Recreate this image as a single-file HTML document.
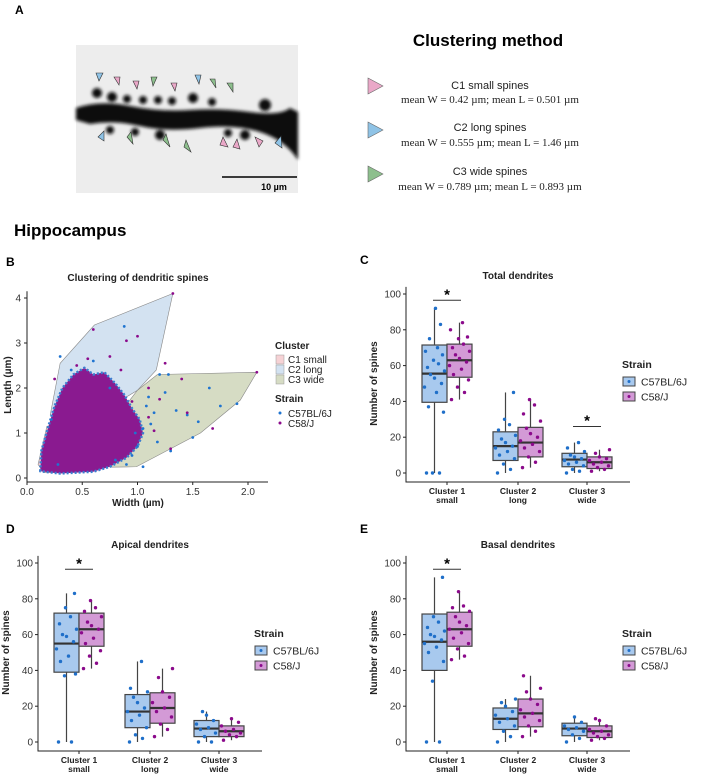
<!DOCTYPE html>
<html><head><meta charset="utf-8"><style>
body{margin:0;background:#fff;width:708px;height:777px;overflow:hidden;font-family:"Liberation Sans",sans-serif}
svg{position:absolute;left:0;top:0}
</style></head><body>
<svg id="fig" width="708" height="777" xmlns="http://www.w3.org/2000/svg">
<defs><filter id="blur" x="-10%" y="-10%" width="120%" height="120%"><feGaussianBlur stdDeviation="1.6"/></filter></defs>
<g>
 <text x="15" y="14" font-weight="bold" font-size="12">A</text>
 <rect x="76" y="45" width="222" height="148" fill="#ededed"/>
 <g filter="url(#blur)">
 <path d="M76 108 Q100 100 130 106 T190 110 T250 112 T290 108 L298 112 L298 160 Q285 140 260 132 T200 128 T140 126 T90 124 L76 120Z" fill="#111"/>
 <g fill="#111">
  <circle cx="97" cy="93" r="5"/><circle cx="112" cy="97" r="5"/><circle cx="127" cy="99" r="4"/><circle cx="143" cy="100" r="4"/><circle cx="158" cy="100" r="4"/><circle cx="172" cy="101" r="4"/><circle cx="193" cy="98" r="5"/><circle cx="212" cy="102" r="4"/><circle cx="110" cy="130" r="4"/><circle cx="135" cy="132" r="4"/><circle cx="160" cy="135" r="5"/><circle cx="228" cy="133" r="4"/><circle cx="245" cy="135" r="5"/><circle cx="265" cy="105" r="6"/>
 </g></g>
 <g stroke="#333" stroke-width="0.6">
  <polygon points="96,73 103,73 99,81" fill="#8fc3e6"/><polygon points="114,77 120,77 119,85" fill="#eaa8c8"/><polygon points="133,81 139,81 137,89" fill="#eaa8c8"/><polygon points="151,77 157,77 153,86" fill="#8dbf8d"/><polygon points="171,83 177,83 175,91" fill="#eaa8c8"/><polygon points="195,75 201,75 199,84" fill="#8fc3e6"/><polygon points="210,79 215,79 216,88" fill="#8dbf8d"/><polygon points="227,83 233,83 233,92" fill="#8dbf8d"/>
  <polygon points="98,137 104,131 104,141" fill="#8fc3e6"/><polygon points="127,137 131,132 133,144" fill="#8dbf8d"/><polygon points="163,140 166,134 170,147" fill="#8dbf8d"/><polygon points="184,147 186,140 191,152" fill="#8dbf8d"/><polygon points="220,145 223,137 228,147" fill="#eaa8c8"/><polygon points="233,147 237,139 240,149" fill="#eaa8c8"/><polygon points="255,137 263,141 259,147" fill="#eaa8c8"/><polygon points="275,143 281,136 282,148" fill="#8fc3e6"/>
 </g>
 <line x1="222" y1="177" x2="297" y2="177" stroke="#000" stroke-width="1.5"/>
 <text x="274" y="190" font-size="9" font-weight="bold" text-anchor="middle">10 µm</text>
 <text x="488" y="46" font-size="17" font-weight="bold" text-anchor="middle">Clustering method</text>
 <g font-family="Liberation Serif,serif" font-size="11" text-anchor="middle" fill="#222">
  <polygon points="368,78 383,86 368,94" fill="#eaa8c8" stroke="#666" stroke-width="0.6"/>
  <text x="490" y="89" font-family="Liberation Sans,sans-serif">C1 small spines</text><text x="490" y="103">mean W = 0.42 µm; mean L = 0.501 µm</text>
  <polygon points="368,122 383,130 368,138" fill="#8fc3e6" stroke="#666" stroke-width="0.6"/>
  <text x="490" y="131" font-family="Liberation Sans,sans-serif">C2 long spines</text><text x="490" y="146">mean W = 0.555 µm; mean L = 1.46 µm</text>
  <polygon points="368,166 383,174 368,182" fill="#8dbf8d" stroke="#666" stroke-width="0.6"/>
  <text x="490" y="175" font-family="Liberation Sans,sans-serif">C3 wide spines</text><text x="490" y="190">mean W = 0.789 µm; mean L = 0.893 µm</text>
 </g>
 <text x="14" y="236" font-size="17" font-weight="bold">Hippocampus</text>
</g>
<g id="pb"></g>
<g id="pc"></g>
<g id="pd"></g>
<g id="pe"></g>
</svg>
<script>
// ---- Panel B data ----
const hullC1 = [[0.1,0.3],[0.18,1.15],[0.27,1.18],[0.35,0.12],[0.15,0.12]];
const hullC2 = [[0.21,1.4],[0.3,2.55],[0.61,3.4],[1.32,4.1],[1.17,2.4],[1.0,1.95],[0.5,1.2]];
const hullC3 = [[1.0,1.95],[1.18,2.3],[2.08,2.35],[1.93,1.73],[1.57,1.0],[0.99,0.25],[0.75,0.24],[0.7,1.0]];
const coreCloud = [[0.12,0.15],[0.13,0.6],[0.2,1.2],[0.25,1.6],[0.32,2.0],[0.42,2.3],[0.52,2.45],[0.6,2.3],[0.7,2.35],[0.8,2.1],[0.88,1.85],[0.95,1.55],[1.02,1.3],[1.05,1.0],[1.0,0.7],[0.9,0.45],[0.75,0.25],[0.6,0.14],[0.3,0.1]];
const bluePtsW = [0.88,1.2,1.28,1.35,1.55,1.65,1.75,1.9,1.1,1.25,1.45,1.05,1.18,1.5,1.3,0.95,1.15,0.6,0.4,0.75,0.9,1.0,1.05,0.8,0.3,1.08,1.12,0.98,0.22,0.28];
const bluePtsL = [3.37,2.3,2.3,1.5,1.25,2.0,1.6,1.65,1.8,1.9,1.4,1.1,0.8,0.9,0.6,0.5,1.45,2.6,2.4,2.0,0.3,0.7,0.25,0.4,2.7,1.6,1.2,1.0,1.3,0.3];
const purplePtsW = [1.32,0.6,0.9,1.0,1.25,1.4,2.08,1.68,1.2,0.45,0.25,0.75,1.1,0.85,0.55,1.3,1.45,1.1,0.95,1.15];
const purplePtsL = [4.1,3.3,3.05,3.15,2.55,2.2,2.35,1.1,1.75,2.5,2.2,2.7,2.0,2.4,2.65,0.65,1.45,1.35,1.7,1.05];
const xTicksB = [0,0.5,1.0,1.5,2.0];
const yTicksB = [0,1,2,3,4];

// ---- Boxplot data: [min, q1, median, q3, max] ----
const clusterNames = ["Cluster 1","Cluster 2","Cluster 3"];
const clusterSub = ["small","long","wide"];
const yTicksBox = [0,20,40,60,80,100];
const totalBlue = [[0,39.5,55.5,71.5,92],[0,7,15,23,45],[0,3.5,7.5,11,17]];
const totalPurple = [[41,53.5,63,72,84],[3,9,17,25.5,41],[1,2.5,6,9,13]];
const apicalBlue = [[0,39,55,72,83],[0,8,17,26.5,45],[0,3,7.5,12,17]];
const apicalPurple = [[41,53.5,63,72,79],[3,10.5,19,27.5,41],[1,3,6,9,13]];
const basalBlue = [[0,40,56,71.5,92],[0,7,13,19,24],[0,3.5,7.5,10.5,14]];
const basalPurple = [[46,53.5,63,72.5,84],[3,8.5,16,24,37],[1,2.5,6,9,13]];
const totalBluePts = [[0,0,0,34,37,45,48,50,53,55,57,59,61,63,66,68,70,75,83,92],[0,2,5,8,10,12,14,15,17,19,21,24,27,30,45],[0,1,2,4,5,6,7,8,9,10,12,14,17]];
const totalPurplePts = [[41,45,48,52,55,58,60,62,64,66,68,70,72,75,76,80,84],[3,6,9,12,14,16,18,20,22,25,29,33,38,41],[1,2,3,4,5,6,7,8,9,11,13]];
const apicalBluePts = [[0,0,37,38,45,48,52,56,59,60,63,66,70,75,83],[0,2,4,8,12,15,17,19,22,25,28,30,45],[0,0,3,5,7,8,10,12,15,17]];
const apicalPurplePts = [[41,44,48,51,55,58,61,63,65,67,70,73,75,79],[3,7,10,14,17,19,22,25,28,36,41],[1,3,4,5,6,7,9,11,13]];
const basalBluePts = [[0,0,34,45,50,53,55,57,59,60,62,64,67,70,92],[0,3,6,9,11,13,15,17,20,22,24],[0,2,4,6,7,8,9,11,14]];
const basalPurplePts = [[46,48,52,55,58,61,63,65,67,70,73,75,76,84],[3,6,9,12,14,16,18,21,24,28,30,37],[1,2,3,4,5,6,7,9,12,13]];

const NS="http://www.w3.org/2000/svg";
function el(parent,tag,attrs,text){const e=document.createElementNS(NS,tag);for(const k in attrs)e.setAttribute(k,attrs[k]);if(text!==undefined)e.textContent=text;parent.appendChild(e);return e;}

// ---- Panel B ----
(function(){
 const g=document.getElementById('pb');
 const X=v=>27+v*110.5, Y=v=>478-v*45;
 const lab=el(g,'text',{x:6,y:266,'font-size':12,'font-weight':'bold'},'B');
 
 
 const t=el(g,'text',{x:138,y:281,'font-size':10,'font-weight':'bold','text-anchor':'middle',fill:'#222'},'Clustering of dendritic spines');
 
 
 const hulls=[[hullC1,'#f6d2d5','hull-c1'],[hullC2,'#d3e2f1','hull-c2'],[hullC3,'#d6dcc4','hull-c3']];
 hulls.forEach(h=>{const p=el(g,'polygon',{points:h[0].map(q=>X(q[0])+','+Y(q[1])).join(' '),fill:h[1],stroke:'#888','stroke-width':0.6});
  
  });
 const core=el(g,'polygon',{points:coreCloud.map(q=>X(q[0])+','+Y(q[1])).join(' '),fill:'#8a1a90',stroke:'#3a7dd0','stroke-width':2.5,'stroke-dasharray':'2 2','stroke-linejoin':'round'});
 
 
 bluePtsW.forEach((w,i)=>{const c=el(g,'circle',{cx:X(w),cy:Y(bluePtsL[i]),r:1.4,fill:'#1f74d0'});
  
  });
 purplePtsW.forEach((w,i)=>{const c=el(g,'circle',{cx:X(w),cy:Y(purplePtsL[i]),r:1.4,fill:'#8b0a8b'});
  
  });
 const ax=el(g,'path',{d:`M27 ${Y(4.15)} V482 H268`,stroke:'#222','stroke-width':1,fill:'none'});
 
 
 xTicksB.forEach(v=>{el(g,'line',{x1:X(v),x2:X(v),y1:482,y2:485,stroke:'#222'});
  const tx=el(g,'text',{x:X(v),y:495,'font-size':10,'text-anchor':'middle',fill:'#333'},v.toFixed(1));
  
  });
 yTicksB.forEach(v=>{el(g,'line',{x1:24,x2:27,y1:Y(v),y2:Y(v),stroke:'#222'});
  const tx=el(g,'text',{x:21,y:Y(v)+3.5,'font-size':10,'text-anchor':'end',fill:'#333'},v);
  
  });
 const xt=el(g,'text',{x:138,y:506,'font-size':10,'font-weight':'bold','text-anchor':'middle',fill:'#222'},'Width (µm)');
 
 
 const yt=el(g,'text',{x:0,y:0,'font-size':10,'font-weight':'bold','text-anchor':'middle',fill:'#222',transform:'translate(11,385) rotate(-90)'},'Length (µm)');
 
 
 const lg=el(g,'g',{'font-size':10,fill:'#222'});
 
 
 el(lg,'text',{x:275,y:349,'font-weight':'bold'},'Cluster');
 [['C1 small','#f6d2d5'],['C2 long','#d3e2f1'],['C3 wide','#d6dcc4']].forEach((e,i)=>{
  el(lg,'rect',{x:276,y:355+i*10,width:8,height:9,fill:e[1],stroke:'#999','stroke-width':0.5});
  const tx=el(lg,'text',{x:288,y:363+i*10},e[0]);
  
  });
 el(lg,'text',{x:275,y:402,'font-weight':'bold'},'Strain');
 [['C57BL/6J','#1f74d0'],['C58/J','#8b0a8b']].forEach((e,i)=>{
  el(lg,'circle',{cx:280,cy:413+i*10,r:1.5,fill:e[1]});
  const tx=el(lg,'text',{x:288,y:417+i*10},e[0]);
  
  });
})();

// ---- Box panels ----
function boxPanel(id,letter,labelX,title,ox,top,blue,purple,bluePts,purplePts,stars){
 const g=document.getElementById(id);
 const axisX=ox+52, y0=top+179, k=1.79;
 const Y=v=>y0-v*k;
 const centers=[ox+93,ox+164,ox+233];
 const lab=el(g,'text',{x:labelX,y:top-30,'font-size':12,'font-weight':'bold'},letter);
 
 
 const t=el(g,'text',{x:ox+164,y:top-15,'font-size':10,'font-weight':'bold','text-anchor':'middle',fill:'#222'},title);
 
 
 const ax=el(g,'path',{d:`M${axisX} ${Y(104)} V${y0+9} H${ox+276}`,stroke:'#222',fill:'none','stroke-width':1});
 
 
 yTicksBox.forEach(v=>{el(g,'line',{x1:axisX-3,x2:axisX,y1:Y(v),y2:Y(v),stroke:'#222'});
  const tx=el(g,'text',{x:axisX-5,y:Y(v)+3.5,'font-size':10,'text-anchor':'end',fill:'#333'},v);
  
  });
 const yt=el(g,'text',{x:0,y:0,'font-size':10,'font-weight':'bold','text-anchor':'middle',fill:'#222',transform:`translate(${ox+23},${Y(50)}) rotate(-90)`},'Number of spines');
 
 
 clusterNames.forEach((n,i)=>{
  el(g,'line',{x1:centers[i],x2:centers[i],y1:y0+9,y2:y0+12,stroke:'#222'});
  const a=el(g,'text',{x:centers[i],y:y0+21,'font-size':8.5,'font-weight':'bold','text-anchor':'middle',fill:'#222'},n);
  
  
  const b=el(g,'text',{x:centers[i],y:y0+30,'font-size':8.5,'font-weight':'bold','text-anchor':'middle',fill:'#222'},clusterSub[i]);
  
  
 });
 const jitterPattern=[-8,5,-2,9,-6,2,-10,7,0,-4,10,-7,4,-1,8,-9,3,-5,6,1];
 const series=[[blue,bluePts,-12.5,'#a8c9ee','#1f6fc9','box-c57'],[purple,purplePts,12.5,'#d39ad6','#8b0a8b','box-c58']];
 series.forEach(s=>{
  s[0].forEach((d,i)=>{
   const cx=centers[i]+s[2], w=25;
   const bg=el(g,'g',{});
   
   
   el(bg,'line',{x1:cx,x2:cx,y1:Y(d[0]),y2:Y(d[4]),stroke:'#444','stroke-width':1.2});
   el(bg,'rect',{x:cx-w/2,y:Y(d[3]),width:w,height:Y(d[1])-Y(d[3]),fill:s[3],stroke:'#444','stroke-width':1.2});
   el(bg,'line',{x1:cx-w/2,x2:cx+w/2,y1:Y(d[2]),y2:Y(d[2]),stroke:'#333','stroke-width':2.2});
   s[1][i].forEach((v,j)=>{
    const jit=jitterPattern[j%jitterPattern.length];
    const c=el(bg,'circle',{cx:cx+jit,cy:Y(v),r:1.7,fill:s[4]});
    
    
   });
  });
 });
 stars.forEach(s=>{
  const ci=s[0], v=s[1];
  const sl=el(g,'line',{x1:centers[ci]-14,x2:centers[ci]+14,y1:Y(v),y2:Y(v),stroke:'#333','stroke-width':1});
  
  
  const st=el(g,'text',{x:centers[ci],y:Y(v)-1,'font-size':15,'font-weight':'bold','text-anchor':'middle'},'*');
  
  
 });
 const lg=el(g,'g',{'font-size':10.5,fill:'#222'});
 
 
 const lx=ox+268, ly=top+74;
 el(lg,'text',{x:lx,y:ly,'font-weight':'bold'},'Strain');
 [['C57BL/6J','#a8c9ee','#1f6fc9'],['C58/J','#d39ad6','#8b0a8b']].forEach((e,i)=>{
  const yy=ly+9+i*15;
  el(lg,'rect',{x:lx+1,y:yy,width:12,height:9,fill:e[1],stroke:'#444','stroke-width':1});
  el(lg,'circle',{cx:lx+7,cy:yy+4.5,r:1.5,fill:e[2]});
  const tx=el(lg,'text',{x:lx+19,y:yy+8.5},e[0]);
  
  
 });
}
boxPanel('pc','C',360,'Total dendrites',354,294,totalBlue,totalPurple,totalBluePts,totalPurplePts,[[0,96.5],[2,26]]);
boxPanel('pd','D',6,'Apical dendrites',-14,563,apicalBlue,apicalPurple,apicalBluePts,apicalPurplePts,[[0,96.5]]);
boxPanel('pe','E',360,'Basal dendrites',354,563,basalBlue,basalPurple,basalBluePts,basalPurplePts,[[0,96.5]]);
</script>
</body></html>
